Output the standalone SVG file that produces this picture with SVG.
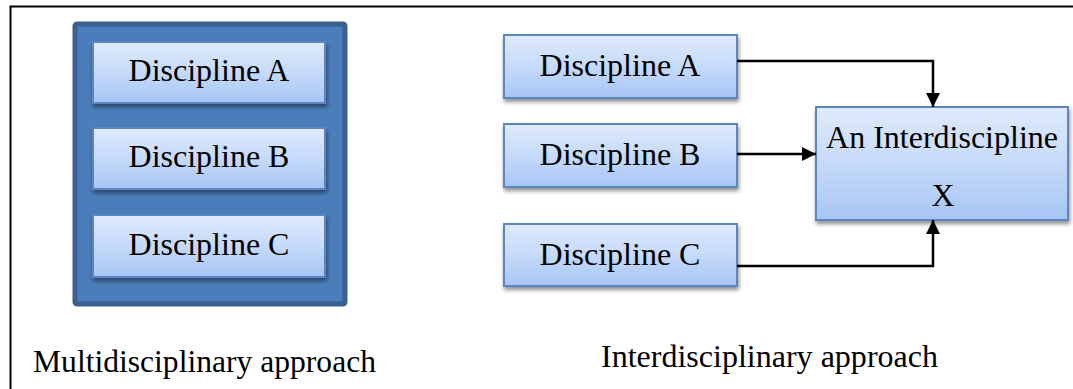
<svg xmlns="http://www.w3.org/2000/svg" width="1073" height="389" viewBox="0 0 1073 389">
  <defs>
    <linearGradient id="boxFill" x1="0" y1="0" x2="0" y2="1">
      <stop offset="0" stop-color="#dfeafc"/>
      <stop offset="0.5" stop-color="#c6dafa"/>
      <stop offset="1" stop-color="#a6c5f4"/>
    </linearGradient>
    <filter id="shadow" x="-10%" y="-10%" width="125%" height="140%">
      <feGaussianBlur in="SourceAlpha" stdDeviation="2"/>
      <feOffset dx="1" dy="3" result="b"/>
      <feComponentTransfer><feFuncA type="linear" slope="0.45"/></feComponentTransfer>
      <feMerge><feMergeNode/><feMergeNode in="SourceGraphic"/></feMerge>
    </filter>
    <marker id="arrow" viewBox="0 0 10 10" refX="10" refY="5" markerWidth="6" markerHeight="6" orient="auto" markerUnits="userSpaceOnUse">
      <path d="M0,0 L10,5 L0,10 z" fill="#000"/>
    </marker>
    <marker id="arrowBig" viewBox="0 0 10 10" refX="10" refY="5" markerWidth="14" markerHeight="14" orient="auto" markerUnits="userSpaceOnUse">
      <path d="M0,0 L10,5 L0,10 z" fill="#000"/>
    </marker>
  </defs>
  <style>
    .box { fill: url(#boxFill); stroke: #5b86c0; stroke-width: 2; filter: url(#shadow); }
    .lbl { font-family: "Liberation Serif", "Times New Roman", serif; font-size: 32px; fill: #000; text-anchor: middle; }
    .cap { font-family: "Liberation Serif", "Times New Roman", serif; font-size: 31px; fill: #000; }
    .conn { fill: none; stroke: #000; stroke-width: 2.5; marker-end: url(#arrowBig); }
  </style>

  <rect width="1073" height="389" fill="#fff"/>
  <!-- outer frame (left and top edges) -->
  <path d="M10.5,389 V6.5 H1073" fill="none" stroke="#000" stroke-width="2"/>

  <!-- multidisciplinary container -->
  <g id="multi">
    <rect x="75" y="24" width="270" height="280" fill="#4a7dba" stroke="#3b5f8e" stroke-width="5" rx="2"/>
    <g id="multi-a">
      <rect class="box" x="93" y="42" width="232" height="61"/>
      <text class="lbl" x="209" y="81">Discipline A</text>
    </g>
    <g id="multi-b">
      <rect class="box" x="93" y="128" width="232" height="61"/>
      <text class="lbl" x="209" y="167">Discipline B</text>
    </g>
    <g id="multi-c">
      <rect class="box" x="93" y="215" width="232" height="62"/>
      <text class="lbl" x="209" y="255">Discipline C</text>
    </g>
  </g>

  <!-- interdisciplinary side -->
  <g id="inter-a">
    <rect class="box" x="504" y="35" width="233" height="63"/>
    <text class="lbl" x="620" y="76">Discipline A</text>
  </g>
  <g id="inter-b">
    <rect class="box" x="504" y="124" width="233" height="63"/>
    <text class="lbl" x="620" y="165">Discipline B</text>
  </g>
  <g id="inter-c">
    <rect class="box" x="504" y="224" width="233" height="62"/>
    <text class="lbl" x="620" y="265">Discipline C</text>
  </g>
  <g id="inter-x">
    <rect class="box" x="816" y="107" width="252" height="113"/>
    <text class="lbl" x="942" y="148">An Interdiscipline</text>
    <text class="lbl" x="943" y="206">X</text>
  </g>

  <g id="connectors">
    <path class="conn" d="M737,61 H933 V107"/>
    <path class="conn" d="M737,154 H816"/>
    <path class="conn" d="M737,266 H933 V220"/>
  </g>

  <!-- captions -->
  <text class="cap" x="33" y="372" textLength="343" lengthAdjust="spacingAndGlyphs">Multidisciplinary approach</text>
  <text class="cap" x="601" y="367" textLength="337" lengthAdjust="spacingAndGlyphs">Interdisciplinary approach</text>
</svg>
